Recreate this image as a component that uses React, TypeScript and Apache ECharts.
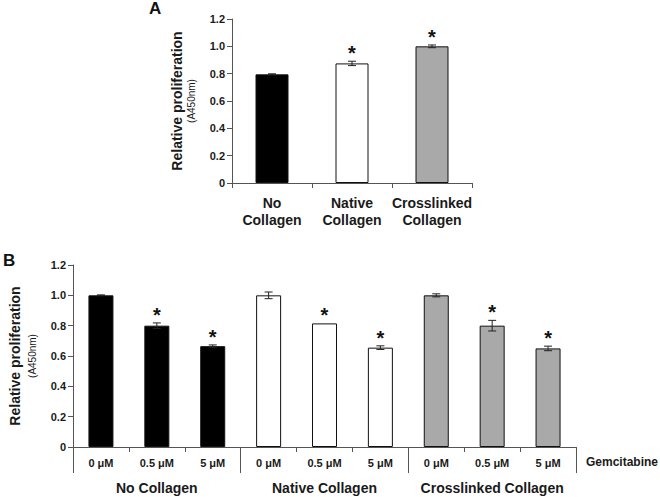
import React, { useEffect, useRef } from "react";
import * as echarts from "echarts";

const aCategories = ["No\nCollagen", "Native\nCollagen", "Crosslinked\nCollagen"];
const aValues = [0.795, 0.875, 1.0];
const aErrors = [0.004, 0.016, 0.01];
const aSignificant = [false, true, true];

const bDoses = ["0 μM", "0.5 μM", "5 μM", "0 μM", "0.5 μM", "5 μM", "0 μM", "0.5 μM", "5 μM"];
const bGroups = ["No Collagen", "Native Collagen", "Crosslinked Collagen"];
const bValues = [1.0, 0.8, 0.665, 1.0, 0.815, 0.655, 1.0, 0.8, 0.65];
const bErrors = [0.003, 0.018, 0.008, 0.022, 0, 0.012, 0.01, 0.035, 0.015];
const bSignificant = [false, true, true, false, true, true, false, true, true];

const groupColors = ["#000000", "#ffffff", "#a9a9a9"];

const FONT = "Liberation Sans, Arial, sans-serif";
const AXIS_COLOR = "#555555";
const TEXT_COLOR = "#1a1a1a";

function errorRender(params: any, api: any) {
  const idx = api.value(0);
  const v = api.value(1);
  const e = api.value(2);
  const sig = api.value(3);
  const top = api.coord([idx, v + e]);
  const bot = api.coord([idx, v - e]);
  const cx = top[0];
  const children: any[] = [];
  const ls = { stroke: "#222", lineWidth: 1 };
  if (e > 0) {
    children.push({ type: "line", shape: { x1: cx, y1: top[1], x2: cx, y2: bot[1] }, style: ls });
    children.push({ type: "line", shape: { x1: cx - 4, y1: top[1], x2: cx + 4, y2: top[1] }, style: ls });
    children.push({ type: "line", shape: { x1: cx - 4, y1: bot[1], x2: cx + 4, y2: bot[1] }, style: ls });
  }
  if (sig) {
    children.push({
      type: "text",
      x: cx,
      y: top[1] + 2,
      style: {
        text: "*",
        font: `bold 20px ${FONT}`,
        fill: "#111",
        textAlign: "center",
        textVerticalAlign: "bottom",
      },
    });
  }
  return { type: "group", children };
}

const yAxisBase = (gridIndex: number, nameGap: number, secondLineHeight: number) => ({
  type: "value",
  gridIndex,
  min: 0,
  max: 1.2,
  interval: 0.2,
  splitLine: { show: false },
  axisLine: { show: true, lineStyle: { color: AXIS_COLOR, width: 1 } },
  axisTick: { show: true, length: 5, lineStyle: { color: AXIS_COLOR } },
  axisLabel: {
    color: TEXT_COLOR,
    fontFamily: FONT,
    fontWeight: "bold",
    fontSize: 11,
    margin: 7,
    formatter: (v: number) => (v === 0 ? "0" : v.toFixed(1)),
  },
  name: "{a|Relative proliferation}\n{b|(A450nm)}",
  nameLocation: "middle",
  nameRotate: 90,
  nameGap,
  nameTextStyle: {
    rich: {
      a: { fontFamily: FONT, fontWeight: "bold", fontSize: 14, color: TEXT_COLOR, lineHeight: 16, align: "center" },
      b: { fontFamily: FONT, fontSize: 10, color: TEXT_COLOR, lineHeight: secondLineHeight, align: "center" },
    },
  },
});

export default function App() {
  const ref = useRef<HTMLDivElement>(null);
  useEffect(() => {
    if (!ref.current) return;
    const chart = echarts.init(ref.current, null, { renderer: "svg" });
    const titleStyle = { fontFamily: FONT, fontWeight: "bold", fontSize: 17, color: "#111" };
    const option: any = {
      animation: false,
      backgroundColor: "#ffffff",
      title: [
        { text: "A", left: 149, top: 0, padding: 0, textStyle: titleStyle },
        { text: "B", left: 3, top: 252, padding: 0, textStyle: titleStyle },
      ],
      grid: [
        { left: 232, top: 19, width: 240, height: 164 },
        { left: 68, top: 265, width: 508, height: 182 },
      ],
      xAxis: [
        {
          type: "category",
          gridIndex: 0,
          data: aCategories,
          axisLine: { lineStyle: { color: AXIS_COLOR } },
          axisTick: { show: true, length: 5, interval: 0, lineStyle: { color: AXIS_COLOR } },
          axisLabel: {
            interval: 0,
            color: TEXT_COLOR,
            fontFamily: FONT,
            fontWeight: "bold",
            fontSize: 14,
            lineHeight: 17,
            margin: 11,
          },
        },
        {
          type: "category",
          gridIndex: 1,
          data: bDoses,
          axisLine: { lineStyle: { color: AXIS_COLOR } },
          axisTick: { show: true, length: 5, interval: 0, lineStyle: { color: AXIS_COLOR } },
          axisLabel: {
            interval: 0,
            color: TEXT_COLOR,
            fontFamily: FONT,
            fontWeight: "bold",
            fontSize: 11,
            margin: 10,
          },
        },
        {
          type: "category",
          gridIndex: 1,
          data: bGroups,
          position: "bottom",
          axisLine: { show: false },
          axisTick: { show: true, length: 26, interval: 0, lineStyle: { color: AXIS_COLOR } },
          axisLabel: {
            interval: 0,
            color: TEXT_COLOR,
            fontFamily: FONT,
            fontWeight: "bold",
            fontSize: 14,
            margin: 34,
          },
        },
      ],
      yAxis: [yAxisBase(0, 35, 12), yAxisBase(1, 32, 18)],
      series: [
        {
          type: "bar",
          xAxisIndex: 0,
          yAxisIndex: 0,
          barWidth: 33,
          data: aValues.map((v, i) => ({
            value: v,
            itemStyle: { color: groupColors[i], borderColor: "#111", borderWidth: 1 },
          })),
        },
        {
          type: "custom",
          xAxisIndex: 0,
          yAxisIndex: 0,
          renderItem: errorRender,
          encode: { x: 0, y: 1 },
          data: aValues.map((v, i) => [i, v, aErrors[i], aSignificant[i] ? 1 : 0]),
          z: 5,
        },
        {
          type: "bar",
          xAxisIndex: 1,
          yAxisIndex: 1,
          barWidth: 25,
          data: bValues.map((v, i) => ({
            value: v,
            itemStyle: { color: groupColors[Math.floor(i / 3)], borderColor: "#111", borderWidth: 1 },
          })),
        },
        {
          type: "custom",
          xAxisIndex: 1,
          yAxisIndex: 1,
          renderItem: errorRender,
          encode: { x: 0, y: 1 },
          data: bValues.map((v, i) => [i, v, bErrors[i], bSignificant[i] ? 1 : 0]),
          z: 5,
        },
      ],
      graphic: [
        {
          type: "text",
          left: 586,
          top: 456,
          style: { text: "Gemcitabine", font: `bold 12px ${FONT}`, fill: TEXT_COLOR },
        },
      ],
    };
    chart.setOption(option);
    return () => chart.dispose();
  }, []);
  return (
    <div
      ref={ref}
      style={{ position: "fixed", left: 0, top: 0, width: 660, height: 497, background: "#fff" }}
    />
  );
}
